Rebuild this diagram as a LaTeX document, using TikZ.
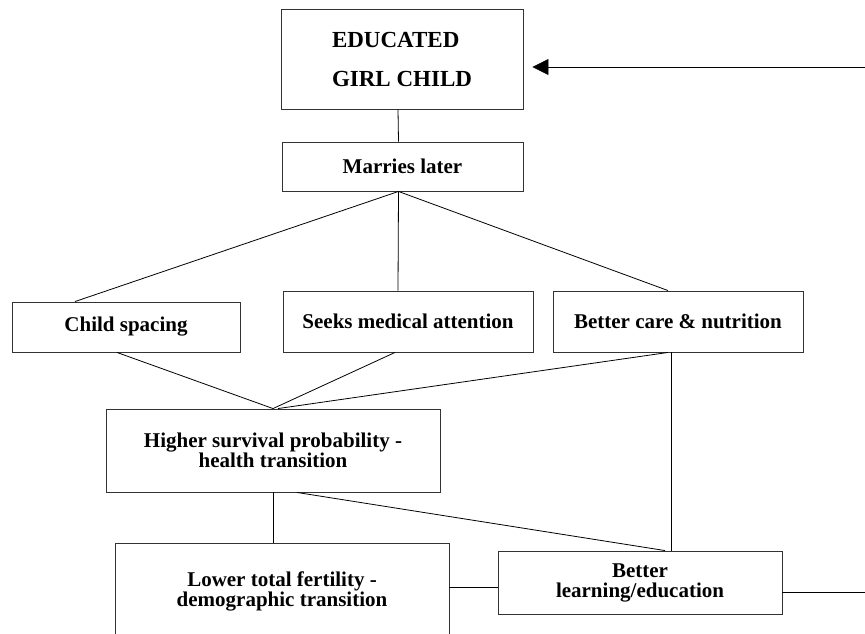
\documentclass[tikz,border=0pt]{standalone}
\usepackage{fontspec}
\setmainfont{Liberation Serif}
\usetikzlibrary{arrows.meta}
\begin{document}
\begin{tikzpicture}[x=1pt,y=-1pt]
        \clip (0,0) rectangle (865,633);
        \begin{scope}[every node/.style={rectangle,draw=black!80,line width=0.9pt,inner sep=0pt,align=center,
            font=\bfseries\fontsize{21}{20}\selectfont}]
          \node[minimum width=242pt,minimum height=100pt,align=left,font=\bfseries\fontsize{23}{39}\selectfont] (E) at (402,59) {EDUCATED\\GIRL CHILD};
          \node[minimum width=241pt,minimum height=49pt] (M) at (402.5,166.5) {Marries later};
          \node[minimum width=228pt,minimum height=50pt] (C) at (126,327) {Child spacing};
          \node[minimum width=250pt,minimum height=61pt] (S) at (408,321.5) {Seeks medical attention};
          \node[minimum width=250pt,minimum height=61pt] (N) at (678,321.5) {Better care \& nutrition};
          \node[minimum width=334pt,minimum height=83pt] (H) at (273,450.5) {Higher survival probability -\\health transition};
          \node[minimum width=334pt,minimum height=97pt] (F) at (282,591.5) {Lower total fertility -\\demographic transition};
          \node[minimum width=284pt,minimum height=63pt] (L) at (640,582.5) {Better\\learning/education};
        \end{scope}
        \coordinate (in) at (865,67);
        \coordinate (out) at (865,592);
        \begin{scope}[every edge/.style={draw=black,line width=0.8pt}]
          \path ([xshift=-4pt]E.south) edge ([xshift=-4pt]M.north);
          \path ([xshift=-4pt]M.south) edge ([xshift=-51pt]C.north);
          \path ([xshift=-4pt]M.south) edge ([xshift=-10pt]S.north);
          \path ([xshift=-4pt]M.south) edge ([xshift=-10pt]N.north);
          \path ([xshift=-9pt]C.south) edge (H.north);
          \path ([xshift=-13pt]S.south) edge (H.north);
          \path ([xshift=-10pt]N.south) edge ([xshift=5pt]H.north);
          \path ([xshift=-7pt]N.south) edge ([xshift=31pt]L.north);
          \path (H.south) edge ([xshift=-9pt]F.north);
          \path ([xshift=24pt]H.south) edge ([xshift=25pt]L.north);
          \path ([yshift=-4.5pt]L.west) edge ([yshift=-4.5pt]L.west -| F.east);
          \path (out) edge (out -| L.east);
          \path (in) edge[-{Triangle[length=16pt,width=16pt]}] ([xshift=9pt]in -| E.east);
        \end{scope}
\end{tikzpicture}
\end{document}
